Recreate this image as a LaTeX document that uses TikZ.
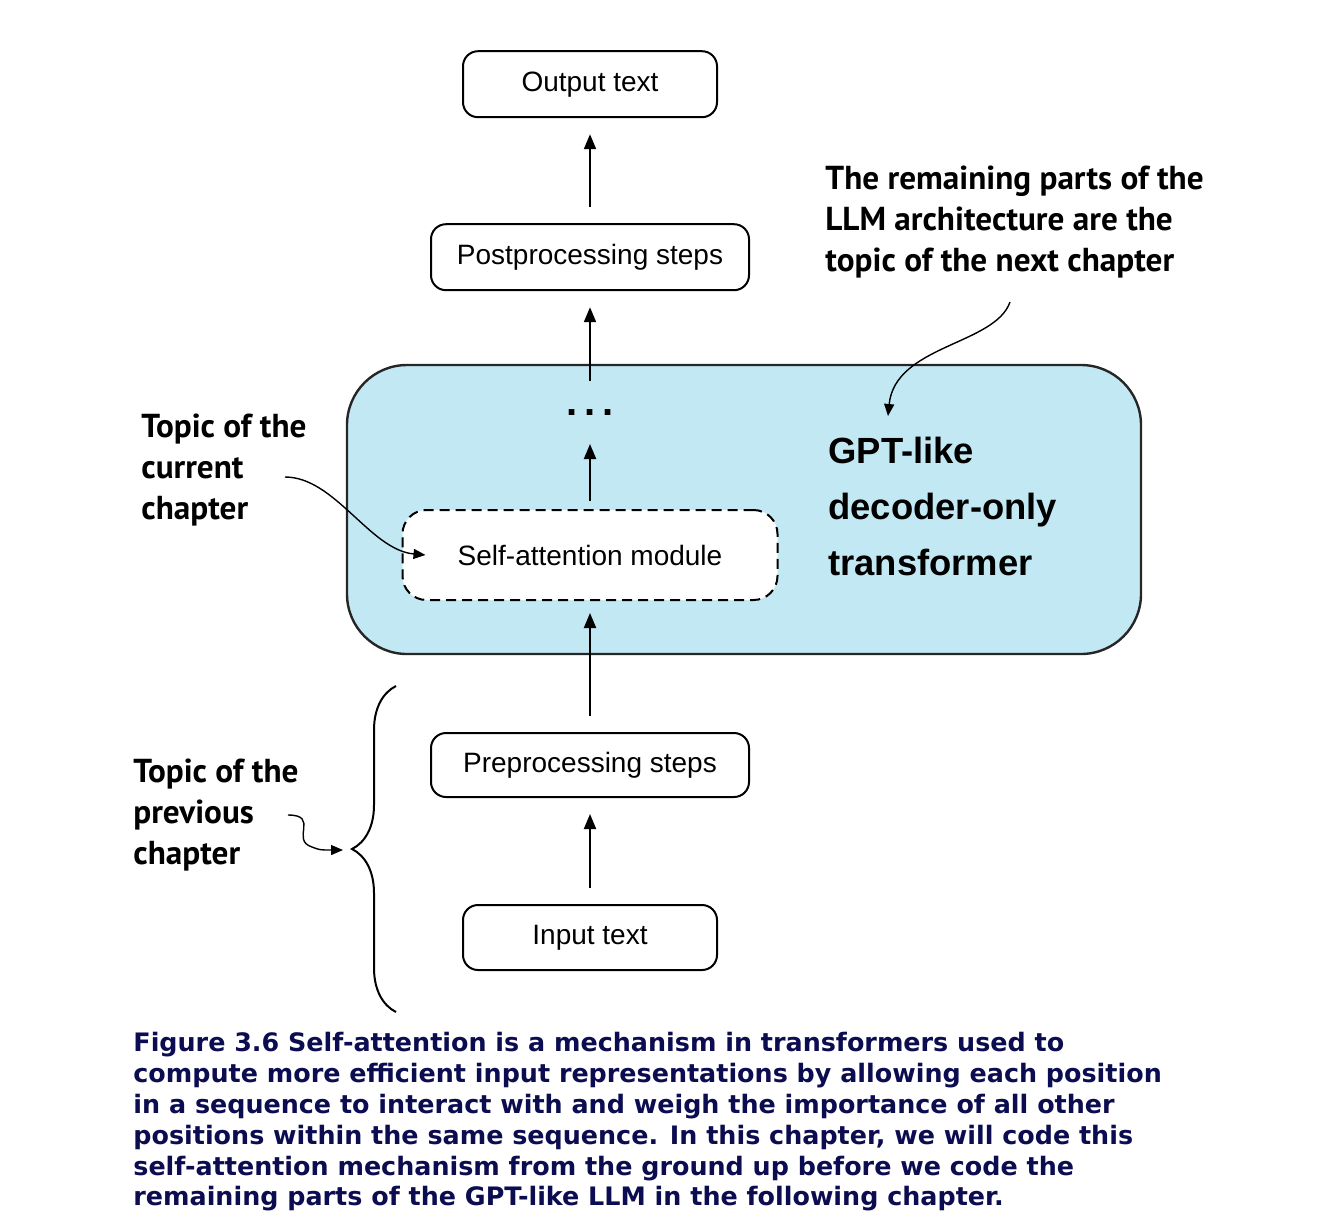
\documentclass[tikz,border=0pt]{standalone}
\usepackage{fontspec}
\setmainfont{Liberation Sans}
\newfontfamily\notefont{PT Sans}
\newfontfamily\capfont{DejaVu Sans}
\usetikzlibrary{arrows.meta, positioning, decorations.pathreplacing}
\definecolor{gptblue}{RGB}{193,232,243}
\definecolor{capnavy}{RGB}{12,12,80}
\tikzstyle{stepbox} = [rectangle, rounded corners=7.5pt, line width=1pt, draw=black, fill=white, text centered, inner sep=0pt, font=\fontsize{14}{16}\selectfont]
\tikzstyle{dashbox} = [stepbox, dash pattern=on 5pt off 3pt, rounded corners=12pt]
\tikzstyle{gptbox} = [rectangle, rounded corners=30pt, line width=1.2pt, draw=black!85, fill=gptblue]
\tikzstyle{note} = [align=left, inner sep=0pt, font=\notefont\bfseries\fontsize{16.6}{20.5}\selectfont]
\tikzstyle{arrow} = [line width=1pt, -{Triangle[length=7.5pt,width=6pt]}, shorten >=8pt, shorten <=8pt]
\tikzstyle{pointer} = [line width=0.7pt, -{Triangle[length=6pt,width=5pt]}]

\begin{document}
\begin{tikzpicture}[x=0.5pt, y=-0.5pt]
\useasboundingbox (0,0) rectangle (1334,1228);

% Transformer block
\node (gpt) [gptbox, minimum width=397pt, minimum height=144.5pt] at (744,509.5) {};
\node (gptlabel) [anchor=west, align=left, inner sep=0pt, font=\bfseries\fontsize{18.2}{28}\selectfont] at (828,506) {GPT-like\\decoder-only\\transformer};

% Main chain
\node (input) [stepbox, minimum width=127pt, minimum height=32.5pt] at (590,937.5) {Input text};
\node (pre) [stepbox, minimum width=159pt, minimum height=32pt, above=53pt of input] {Preprocessing steps};
\node (sa) [dashbox, minimum width=187.5pt, minimum height=45pt, above=65.5pt of pre] {Self-attention module};
\node (dots) [minimum height=15pt, inner sep=0pt, above=40.5pt of sa, font=\bfseries\fontsize{20}{20}\selectfont] {.\hspace{3.5pt}.\hspace{3.5pt}.};
\node (post) [stepbox, minimum width=159pt, minimum height=33pt, above=53pt of dots] {Postprocessing steps};
\node (output) [stepbox, minimum width=127pt, minimum height=33pt, above=52.5pt of post] {Output text};

% Arrows
\draw [arrow] (input) -- (pre);
\draw [arrow, shorten >=6pt] (pre) -- (sa);
\draw [arrow, shorten <=4pt] (sa) -- (dots);
\draw [arrow] (dots) -- (post);
\draw [arrow] (post) -- (output);

% Brace
\coordinate (braceb) at (396,1012);
\coordinate (bracet) at (396,686);
\coordinate (bracetip) at (343,850);
\draw [line width=1pt, decorate, decoration={brace, amplitude=22pt}] (braceb) -- (bracet);

% Annotations
\node (cur) [note, anchor=west] at (141,470) {Topic of the\\current\\chapter};
\node (prev) [note, anchor=west] at (133,815) {Topic of the\\previous\\chapter};
\node (next) [note, anchor=west] at (825,222) {The remaining parts of the\\LLM architecture are the\\topic of the next chapter};

\coordinate (curstart) at (285,477);
\coordinate (prevstart) at (288,815);
\coordinate (nextstart) at (1010,302);
\coordinate (gptmark) at (888,416);
\draw [pointer] (curstart) .. controls (335,477) and (370,550) .. ([xshift=12pt]sa.west);
\draw [pointer] (prevstart) .. controls (320,815) and (290,840) .. (312,847) .. controls (320,850) .. (bracetip);
\draw [pointer] (nextstart) .. controls (995,345) and (895,345) .. (gptmark);

% Caption
\node (caption) [anchor=west, align=left, inner sep=0pt, text=capnavy, font=\capfont\bfseries\fontsize{12.7}{15.4}\selectfont] at (133,1122) {Figure 3.6 Self-attention is a mechanism in transformers used to\\compute more efficient input representations by allowing each position\\in a sequence to interact with and weigh the importance of all other\\positions within the same sequence. In this chapter, we will code this\\self-attention mechanism from the ground up before we code the\\remaining parts of the GPT-like LLM in the following chapter.};

\end{tikzpicture}
\end{document}
